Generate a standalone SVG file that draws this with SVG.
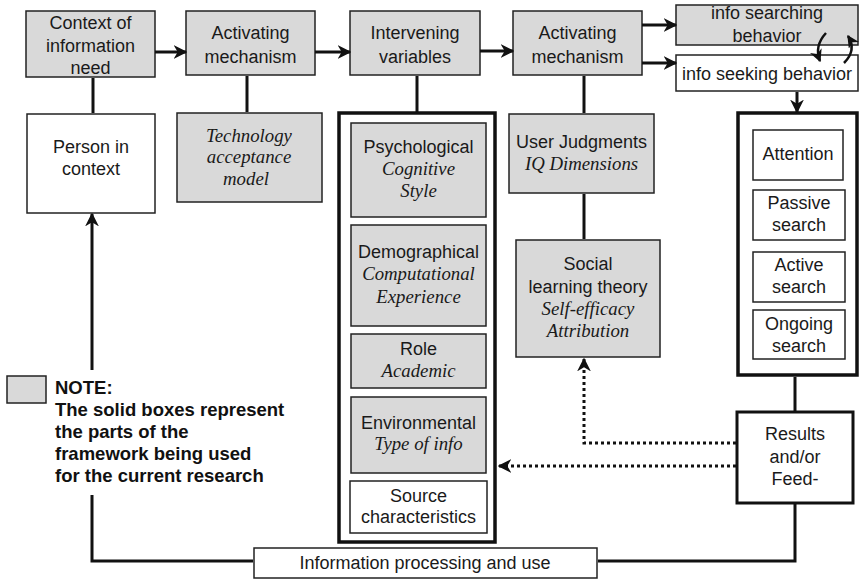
<svg xmlns="http://www.w3.org/2000/svg" width="860" height="580" viewBox="0 0 860 580">
<defs>
<style>
.g{fill:#d9d9d9;stroke:#222;stroke-width:1.5}
.w{fill:#fff;stroke:#222;stroke-width:1.5}
.c{fill:#fff;stroke:#111;stroke-width:3.5}
.cb{fill:#fff;stroke:#111;stroke-width:3}
.t{font-family:"Liberation Sans",Arial,sans-serif;font-size:18px;fill:#1a1a1a;text-anchor:middle}
.i{font-family:"Liberation Serif","Times New Roman",serif;font-style:italic;font-size:18.8px;fill:#1a1a1a;text-anchor:middle}
.n{font-family:"Liberation Sans",Arial,sans-serif;font-size:18.5px;font-weight:bold;fill:#111}
.l{fill:none;stroke:#111;stroke-width:3}
.d{fill:none;stroke:#111;stroke-width:3;stroke-dasharray:3 3}
.a{marker-end:url(#ah)}
</style>
<marker id="ah" viewBox="0 0 10 10" refX="9" refY="5" markerWidth="4.6" markerHeight="4.6" orient="auto" markerUnits="strokeWidth">
<path d="M0,0 L10,5 L0,10 L3,5 z" fill="#111"/>
</marker>
<marker id="ah2" viewBox="0 0 10 10" refX="9" refY="5" markerWidth="5" markerHeight="5" orient="auto" markerUnits="strokeWidth">
<path d="M0,0 L10,5 L0,10 L3,5 z" fill="#111"/>
</marker>
</defs>

<g id="context"><rect class="g" x="26" y="11" width="129" height="66"/>
<text class="t" x="90.5" y="29">Context of</text><text class="t" x="90.5" y="52">information</text><text class="t" x="90.5" y="74">need</text></g>

<g id="activating1"><rect class="g" x="186" y="11" width="129" height="64"/>
<text class="t" x="250.5" y="39">Activating</text><text class="t" x="250.5" y="63">mechanism</text></g>

<g id="intervening"><rect class="g" x="350" y="11" width="130" height="64"/>
<text class="t" x="415" y="39">Intervening</text><text class="t" x="415" y="63">variables</text></g>

<g id="activating2"><rect class="g" x="513" y="11" width="129" height="64"/>
<text class="t" x="577.5" y="39">Activating</text><text class="t" x="577.5" y="63">mechanism</text></g>

<g id="searching"><rect class="g" x="676" y="5" width="182" height="40"/>
<text class="t" x="767" y="19">info searching</text><text class="t" x="767" y="42">behavior</text></g>

<g id="seeking"><rect class="w" x="676" y="55" width="182" height="36"/>
<text class="t" x="767" y="80">info seeking behavior</text></g>

<g id="person"><rect class="w" x="27" y="114" width="128" height="99"/>
<text class="t" x="91" y="153">Person in</text><text class="t" x="91" y="175">context</text></g>

<g id="tam"><rect class="g" x="177" y="113" width="145" height="89"/>
<text class="i" x="249" y="142">Technology</text><text class="i" x="249" y="163">acceptance</text><text class="i" x="246" y="185">model</text></g>

<g id="intervening-group"><rect class="c" x="339" y="113" width="156" height="429"/>
<g id="psychological"><rect class="g" x="351" y="123" width="135" height="94"/>
<text class="t" x="418.5" y="153">Psychological</text><text class="i" x="418.5" y="175">Cognitive</text><text class="i" x="418.5" y="197">Style</text></g>
<g id="demographical"><rect class="g" x="351" y="225" width="135" height="101"/>
<text class="t" x="418.5" y="258">Demographical</text><text class="i" x="418.5" y="280">Computational</text><text class="i" x="418.5" y="303">Experience</text></g>
<g id="role"><rect class="g" x="351" y="334" width="135" height="54"/>
<text class="t" x="418.5" y="355">Role</text><text class="i" x="418.5" y="377">Academic</text></g>
<g id="environmental"><rect class="g" x="351" y="397" width="135" height="76"/>
<text class="t" x="418.5" y="429">Environmental</text><text class="i" x="418.5" y="450">Type of info</text></g>
<g id="source"><rect class="w" x="350" y="481" width="137" height="52"/>
<text class="t" x="418.5" y="502">Source</text><text class="t" x="418.5" y="523">characteristics</text></g>
</g>

<g id="user-judgments"><rect class="g" x="509" y="114" width="145" height="79"/>
<text class="t" x="581.5" y="148">User Judgments</text><text class="i" x="581.5" y="170">IQ Dimensions</text></g>

<g id="social"><rect class="g" x="516" y="240" width="144" height="117"/>
<text class="t" x="588" y="270">Social</text><text class="t" x="588" y="293">learning theory</text><text class="i" x="588" y="315">Self-efficacy</text><text class="i" x="588" y="337">Attribution</text></g>

<g id="search-group"><rect class="c" x="738" y="113" width="119" height="262"/>
<g id="attention"><rect class="w" x="753" y="130" width="90" height="50"/>
<text class="t" x="798" y="160">Attention</text></g>
<g id="passive"><rect class="w" x="753" y="190" width="92" height="50"/>
<text class="t" x="799" y="209">Passive</text><text class="t" x="799" y="231">search</text></g>
<g id="active"><rect class="w" x="753" y="252" width="92" height="50"/>
<text class="t" x="799" y="271">Active</text><text class="t" x="799" y="293">search</text></g>
<g id="ongoing"><rect class="w" x="753" y="310" width="92" height="49"/>
<text class="t" x="799" y="330">Ongoing</text><text class="t" x="799" y="352">search</text></g>
</g>

<g id="results"><rect class="cb" x="737" y="412" width="116" height="91"/>
<text class="t" x="795" y="440">Results</text><text class="t" x="795" y="463">and/or</text><text class="t" x="795" y="485">Feed-</text></g>

<g id="info-processing"><rect class="w" x="254" y="548" width="343" height="30"/>
<text class="t" x="425" y="569">Information processing and use</text></g>

<g id="note"><rect class="g" x="7" y="376" width="39" height="27"/>
<text class="n" x="55" y="394">NOTE:</text>
<text class="n" x="55" y="416">The solid boxes represent</text>
<text class="n" x="55" y="438">the parts of the</text>
<text class="n" x="55" y="460">framework being used</text>
<text class="n" x="55" y="482">for the current research</text></g>

<g id="connectors">
<line class="l a" x1="155" y1="52" x2="186" y2="52"/>
<line class="l a" x1="315" y1="52" x2="350" y2="52"/>
<line class="l a" x1="480" y1="51" x2="513" y2="51"/>
<line class="l a" x1="642" y1="25" x2="676" y2="25"/>
<line class="l a" x1="642" y1="63" x2="676" y2="63"/>
<line class="l" x1="93" y1="78" x2="93" y2="113"/>
<line class="l" x1="247" y1="76" x2="247" y2="112"/>
<line class="l" x1="417" y1="76" x2="417" y2="112"/>
<line class="l" x1="584" y1="76" x2="584" y2="113"/>
<line class="l" x1="584" y1="194" x2="584" y2="239"/>
<line class="l a" x1="797" y1="92" x2="797" y2="112"/>
<line class="l" x1="795" y1="377" x2="795" y2="411"/>
<polyline class="l" points="795,504 795,561 598,561"/>
<polyline class="l" points="253,561 92,561 92,495"/>
<line class="l a" x1="92" y1="370" x2="92" y2="214"/>
<polyline class="d a" points="736,443 584,443 584,359"/>
<line class="d a" x1="736" y1="466" x2="499" y2="466"/>
<path class="l" style="stroke-width:2.5" marker-end="url(#ah2)" d="M826,33 Q814,46 820,61"/>
<path class="l" style="stroke-width:2.5" marker-end="url(#ah2)" d="M844,63 Q857,50 848,36"/>
</g>
</svg>
